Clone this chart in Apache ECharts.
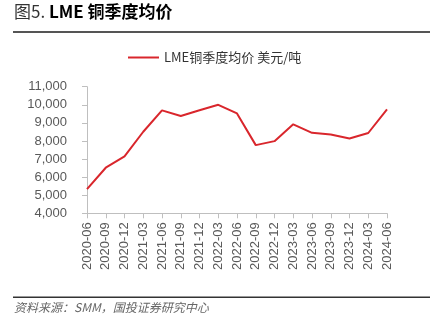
<!DOCTYPE html>
<html><head><meta charset="utf-8">
<script src="https://cdn.jsdelivr.net/npm/echarts@6/dist/echarts.min.js"></script>
<style>html,body{margin:0;padding:0;background:#fff}#c{width:445px;height:332px}</style>
</head><body><div id="c"></div>
<script>
var categories = ['2020-06','2020-09','2020-12','2021-03','2021-06','2021-09','2021-12','2022-03','2022-06','2022-09','2022-12','2023-03','2023-06','2023-09','2023-12','2024-03','2024-06'];
var seriesName = 'LME铜季度均价 美元/吨';
var copperPrice = [5340, 6520, 7150, 8510, 9690, 9380, 9700, 10000, 9520, 7770, 7990, 8920, 8450, 8360, 8140, 8440, 9750];
var yTicks = [4000, 5000, 6000, 7000, 8000, 9000, 10000, 11000];

var font = '"Noto Sans CJK SC", Arial, sans-serif';
var chart = echarts.init(document.getElementById('c'));
chart.setOption({
  animation: false,
  textStyle: {fontFamily: font},
  legend: {
    top: 46, left: 123,
    itemWidth: 31, itemHeight: 12, itemGap: 3,
    textStyle: {fontSize: 13, color: '#333', fontFamily: font},
    data: [{name: seriesName, icon: 'path://M0,5L31,5L31,7L0,7Z'}]
  },
  grid: {left: 87, right: 58, top: 86.7, bottom: 118.7, containLabel: false},
  xAxis: {
    type: 'category', data: categories, boundaryGap: false,
    axisLine: {lineStyle: {color: '#bfbfbf'}},
    axisTick: {alignWithLabel: true, length: 5, lineStyle: {color: '#bfbfbf'}},
    axisLabel: {rotate: 90, margin: 9, fontSize: 13, color: '#595959', fontFamily: 'Arial, "Liberation Sans", sans-serif'}
  },
  yAxis: {
    type: 'value', min: yTicks[0], max: yTicks[yTicks.length-1], interval: 1000,
    splitLine: {show: false},
    axisLine: {show: true, lineStyle: {color: '#bfbfbf'}},
    axisTick: {show: true, length: 5, lineStyle: {color: '#bfbfbf'}},
    axisLabel: {margin: 20, fontSize: 13, color: '#595959', fontFamily: 'Arial, "Liberation Sans", sans-serif',
      formatter: function(v){ return v.toLocaleString('en-US'); }}
  },
  series: [{
    name: seriesName, type: 'line', data: copperPrice,
    symbol: 'none', lineStyle: {color: '#d9262c', width: 2}, itemStyle: {color: '#d9262c'}
  }],
  graphic: [
    {type: 'text', left: 14, top: 3, style: {
      text: '{n|图5. }{b|LME 铜季度均价}',
      rich: {
        n: {fontSize: 17, fontFamily: font, fill: '#333'},
        b: {fontSize: 17, fontWeight: 'bold', fontFamily: font, fill: '#000'}
      }}},
    {type: 'rect', shape: {x: 13, y: 31, width: 417, height: 2}, style: {fill: '#555'}},
    {type: 'rect', shape: {x: 13, y: 296.5, width: 417, height: 1.5}, style: {fill: '#333'}},
    {type: 'text', left: 14, top: 301, style: {
      text: '资料来源：SMM，国投证券研究中心', fontSize: 12, fontStyle: 'italic', fontFamily: font, fill: '#666'}}
  ]
});
</script></body></html>
